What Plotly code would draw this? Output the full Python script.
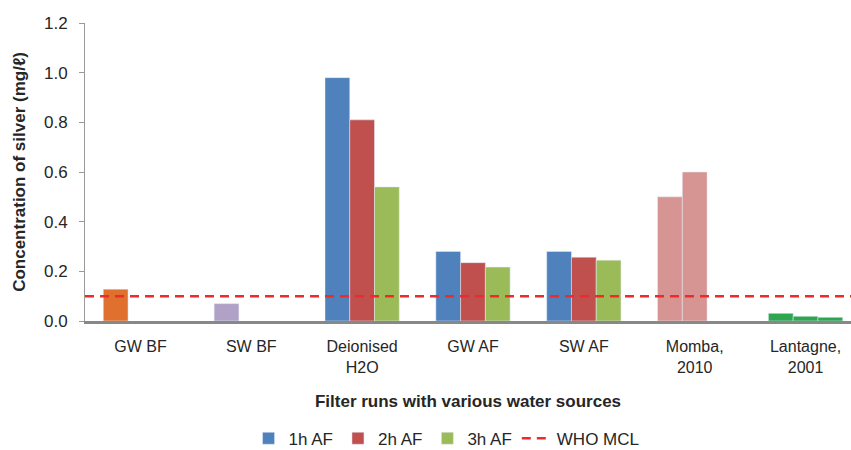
import plotly.graph_objects as go

categories = ["GW BF", "SW BF", "Deionised<br>H2O", "GW AF", "SW AF", "Momba,<br>2010", "Lantagne,<br>2001"]

# Main series (after filtration runs)
af_cats = ["Deionised<br>H2O", "GW AF", "SW AF"]
h1_af = [0.98, 0.28, 0.28]
h2_af = [0.81, 0.235, 0.257]
h3_af = [0.54, 0.217, 0.245]

# Before filtration
gw_bf = [0.128]
sw_bf = [0.07]

# Literature values
momba_2010 = [0.50, 0.60]
lantagne_2001 = [0.031, 0.019, 0.015]

who_mcl = 0.1

FONT = "Liberation Sans, Arial, sans-serif"

c1, c2, c3 = "#4F81BD", "#C0504D", "#9BBB59"

fig = go.Figure()
fig.add_trace(go.Bar(name="1h AF", x=af_cats, y=h1_af, marker_color=c1, offsetgroup="1"))
fig.add_trace(go.Bar(name="2h AF", x=af_cats, y=h2_af, marker_color=c2, offsetgroup="2"))
fig.add_trace(go.Bar(name="3h AF", x=af_cats, y=h3_af, marker_color=c3, offsetgroup="3"))

fig.add_trace(go.Bar(x=[categories[0]], y=gw_bf, marker_color="#E0702E", offsetgroup="1", showlegend=False))
fig.add_trace(go.Bar(x=[categories[1]], y=sw_bf, marker_color="#B1A1C7", offsetgroup="1", showlegend=False))

for i, v in enumerate(momba_2010):
    fig.add_trace(go.Bar(x=[categories[5]], y=[v], marker_color="#D69593",
                         offsetgroup=str(i + 1), showlegend=False))
for i, v in enumerate(lantagne_2001):
    fig.add_trace(go.Bar(x=[categories[6]], y=[v], marker_color="#2EA650",
                         offsetgroup=str(i + 1), showlegend=False))

# WHO MCL legend entry
fig.add_trace(go.Scatter(name="WHO MCL", x=[None], y=[None], mode="lines",
                         line=dict(color="#EE2A2A", width=2.5, dash="9px,6px")))

fig.add_shape(type="line", xref="paper", yref="y", x0=0, x1=1, y0=who_mcl, y1=who_mcl,
              line=dict(color="#EE2A2A", width=2.5, dash="9px,6px"), layer="above")

fig.update_layout(
    width=851, height=450,
    margin=dict(l=85, r=0, t=23, b=129, autoexpand=False),
    paper_bgcolor="white", plot_bgcolor="white",
    barmode="group", bargap=0.33, bargroupgap=0,
    font=dict(family=FONT, size=16, color="#262626"),
    legend=dict(orientation="h", x=0.472, xanchor="center", y=-0.395, yanchor="middle",
                font=dict(size=17, family=FONT), traceorder="normal",
                itemwidth=30, bgcolor="rgba(0,0,0,0)"),
    xaxis=dict(
        categoryorder="array", categoryarray=categories,
        range=[-0.5, 6.41], automargin=False,
        showline=True, linecolor="#888888", linewidth=2.5,
        ticks="", showgrid=False, zeroline=False,
        tickfont=dict(size=16, family=FONT),
        ticklabelstandoff=9,
        title=dict(text="<b>Filter runs with various water sources</b>",
                   font=dict(size=17, family=FONT), standoff=21),
    ),
    yaxis=dict(
        range=[0, 1.2], dtick=0.2, tickformat=".1f", automargin=False,
        showline=True, linecolor="#9A9A9A", linewidth=1,
        ticks="outside", ticklen=5, tickcolor="#9A9A9A",
        showgrid=False, zeroline=False,
        tickfont=dict(size=17, family=FONT),
        ticklabelstandoff=8,
        title=dict(text="<b>Concentration of silver (mg/ℓ)</b>",
                   font=dict(size=17, family=FONT), standoff=14),
    ),
)

fig.write_html("out.html", config={"displayModeBar": False},
               post_script="document.body.style.margin='0px';document.body.style.overflow='hidden';")
